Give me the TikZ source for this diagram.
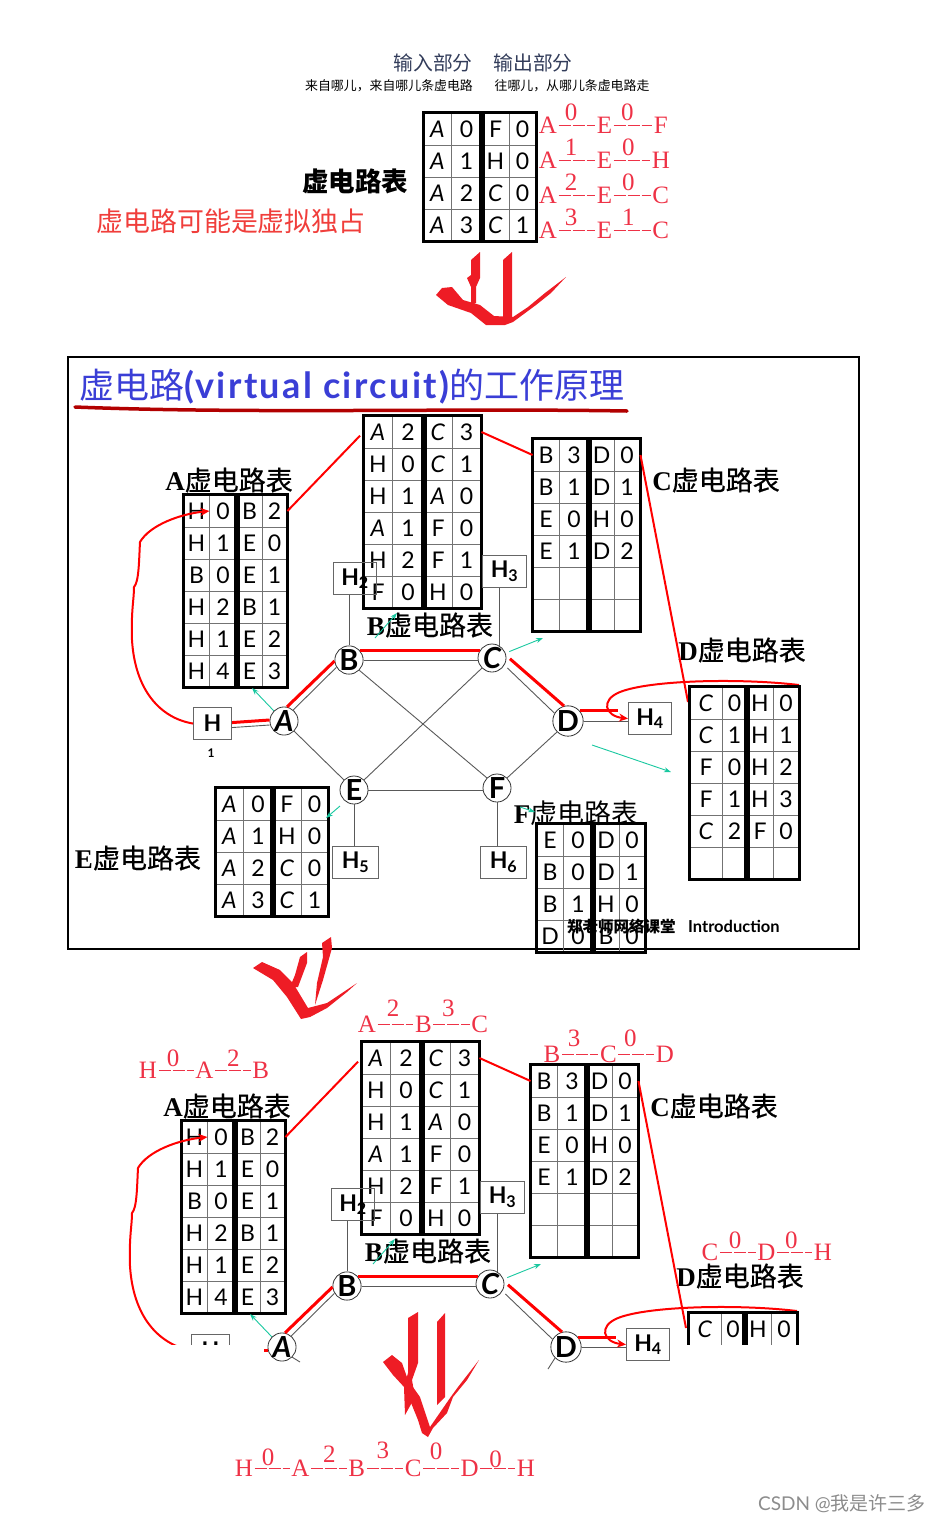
\documentclass[tikz,border=0pt]{standalone}
\usepackage{fontspec}
\usepackage{amsmath}
\setmainfont{Liberation Serif}
\newfontfamily\cjk{Noto Sans CJK SC}
\newfontfamily\cjkb[FakeBold=0.6, BoldFont={Noto Sans CJK SC}, BoldFeatures={FakeBold=0.6}]{Noto Sans CJK SC}
\newfontfamily\comic{Lato}
\newfontfamily\comicwide[LetterSpace=6.5]{Lato}
\definecolor{netred}{RGB}{238, 28, 37}
\definecolor{chainred}{RGB}{238, 50, 70}
\definecolor{titleblue}{RGB}{58, 62, 214}
\definecolor{hintgreen}{RGB}{25, 200, 160}
\definecolor{headgray}{RGB}{50, 60, 90}
\usetikzlibrary{arrows.meta, positioning, calc}

\newcommand{\fs}[1]{\fontsize{#1}{#1}\selectfont}
\newcommand{\ia}{\textit{A}}
\newcommand{\ic}{\textit{C}}

\tikzset{
  vccell/.style={draw=black!55, line width=0.9pt, inner sep=0pt, font=\comic\fs{23}},
  vcframe/.style={draw=black, line width=2.4pt},
  vcbar/.style={draw=black, line width=6pt},
  router/.style={circle, draw=black!80, fill=white, line width=0.8pt, minimum size=28pt, inner sep=0pt, font=\comic\bfseries\fs{29}},
  hostbox/.style={draw=black!60, line width=1.1pt, minimum height=32pt, inner sep=0pt, font=\comic\bfseries\fs{23}},
  thinlink/.style={draw=black!65, line width=0.9pt},
  redlink/.style={draw=red, line width=3pt},
  redwire/.style={draw=red, line width=2pt},
  redtip/.style={draw=red, line width=2pt, -{Stealth[length=9pt, width=8pt]}},
  hint/.style={draw=hintgreen, line width=0.9pt, -{Stealth[length=7pt, width=5pt]}},
  tablabel/.style={inner sep=0pt, font=\bfseries\fs{27}},
  chainletter/.style={inner sep=1.5pt, text=chainred, font=\fs{25}},
  chaindigit/.style={inner sep=0pt, text=chainred, font=\fs{25}},
  chainline/.style={draw=chainred, line width=0.8pt, dash pattern=on 12pt off 2pt},
  stroke/.style={fill=netred, draw=none},
}

% table: name, column edges x0..x4, top y, rows
\newcommand{\vctable}[8]{
  \foreach \ca/\cb/\cc/\cd [count=\rw] in {#8} {
    \node[vccell, minimum width={(#3-#2)*1pt}, minimum height=32pt] (#1-\rw-1) at ({(#2+#3)/2},{#7+32*\rw-16}) {\ca};
    \node[vccell, minimum width={(#4-#3)*1pt}, minimum height=32pt] (#1-\rw-2) at ({(#3+#4)/2},{#7+32*\rw-16}) {\cb};
    \node[vccell, minimum width={(#5-#4)*1pt}, minimum height=32pt] (#1-\rw-3) at ({(#4+#5)/2},{#7+32*\rw-16}) {\cc};
    \node[vccell, minimum width={(#6-#5)*1pt}, minimum height=32pt] (#1-\rw-4) at ({(#5+#6)/2},{#7+32*\rw-16}) {\cd};
    \xdef\vclast{\rw}
  }
  \draw[vcframe] (#1-1-1.north west) rectangle (#1-\vclast-4.south east);
  \draw[vcbar] (#4,#7) -- (#4,{#7+32*\vclast});
}

% chain: name, first x, y, digit/dx/dy/letter
\newcommand{\vcchain}[4]{
  \foreach \dg/\dx/\dy/\ltr [count=\i, remember=\i as \previ (initially 0)] in {#4} {
    \node[chainletter] (#1-\i) at ({#2+56.4*(\i-1)},#3) {\ltr};
    \ifnum\i>1
      \node[chaindigit] (#1-d\i) at ({#2+56.4*(\i-2)+\dx},{#3+\dy}) {\dg};
      \draw[chainline] (#1-\previ) -- (#1-\i);
    \fi
  }
}

% the part of the network that is shown twice
\newcommand{\vcnetwork}{
  \vctable{tabA}{184}{209}{237}{262}{287}{495}{H/0/B/2, H/1/E/0, B/0/E/1, H/2/B/1, H/1/E/2, H/4/E/3}
  \vctable{tabB}{364}{392}{424}{452}{481}{416}{\ia/2/\ic/3, H/0/\ic/1, H/1/\ia/0, \ia/1/F/0, H/2/F/1, F/0/H/0}
  \vctable{tabC}{533}{559}{589}{614}{640}{439}{B/3/D/0, B/1/D/1, E/0/H/0, E/1/D/2, {}/{}/{}/{}, {}/{}/{}/{}}

  \node[tablabel] (labA) at (229,480) {A{\cjkb 虚电路表}};
  \node[tablabel] (labB) at (430,625) {B{\cjkb 虚电路表}};
  \node[tablabel] (labC) at (716,480) {C{\cjkb 虚电路表}};
  \node[tablabel] (labD) at (742,650) {D{\cjkb 虚电路表}};

  \node[router] (A) at (284,721) {\itshape A};
  \node[router] (B) at (349,660) {B};
  \node[router] (C) at (492,658) {\itshape C};
  \node[router] (D) at (568,721) {D};

  \node[hostbox, minimum width=43pt, anchor=north west] (H2) at (333,562) {H\textsubscript{2}\hspace{8pt}};
  \node[hostbox, minimum width=44pt, anchor=north west] (H3) at (482,555) {H\textsubscript{3}};
  \node[hostbox, minimum width=43pt, anchor=north west] (H4) at (628,702) {H\textsubscript{4}};

  \draw[thinlink] (B.north |- H2.south) -- (B.north);
  \draw[thinlink] (C.60 |- H3.south) -- (C.60);
  \draw[thinlink] (A.50) -- (B.-150);
  \draw[thinlink] (B.east) -- (B.east -| C.west);
  \draw[thinlink, shorten <=4pt] (C.-30) -- (D.150);
  \draw[thinlink] (D.east) -- (D.east -| H4.west);

  \draw[redlink] (A.78) -- (B.184);
  \draw[redlink] (B.40) -- (B.40 -| C.145);
  \draw[redlink, shorten <=5pt] (C.10) -- (D.105);
  \coordinate (bendD) at (618,712);
  \draw[redlink] (D.40) -- (D.40 -| bendD);

  \draw[redwire, shorten >=5pt] (tabA-1-4.east) -- (tabB-1-1.west);
  \draw[redwire] (tabB-1-4.east) -- (tabC-1-1.west);
  \coordinate (entryD) at (688,702);
  \draw[redwire] (tabC-1-4.east) -- (entryD);

  % from the D table round to H4
  \coordinate (cornerD) at (799,685);
  \draw[redtip] (cornerD) .. controls (740,678) and (650,680) .. (620,692)
    .. controls (600,700) and (605,716) .. (H4.west);

  \coordinate (hintA) at (252,688);
  \coordinate (hintB) at (397,613);
  \coordinate (hintBs) at (375,638);
  \coordinate (hintC) at (543,638);
  \draw[hint] (A.135) -- (hintA);
  \draw[hint] (hintBs) -- (hintB);
  \draw[hint, shorten <=4pt] (C.20) -- (hintC);
}

\begin{document}
\begin{tikzpicture}[x=1pt, y=-1pt]
  \useasboundingbox (0,0) rectangle (942,1524);

  % top table
  \node[inner sep=0pt, text=headgray, font=\cjk\fs{19.8}] (inhead) at (433,63) {输入部分};
  \node[inner sep=0pt, text=headgray, font=\cjk\fs{19.8}] (outhead) at (533,63) {输出部分};
  \node[inner sep=0pt, font=\cjk\fs{12.9}] (insub) at (389,86) {来自哪儿，来自哪儿条虚电路};
  \node[inner sep=0pt, font=\cjk\fs{12.9}] (outsub) at (572,86) {往哪儿，从哪儿条虚电路走};
  \vctable{tabT}{424}{451}{482}{509}{536}{113}{\ia/0/F/0, \ia/1/H/0, \ia/2/\ic/0, \ia/3/\ic/1}
  \node[inner sep=0pt, font=\cjk\bfseries\fs{26.5}] (vctitle) at (355,181) {虚电路表};
  \node[inner sep=0pt, text=chainred!85!orange, font=\cjk\fs{26.9}] (vcnote) at (231,221) {虚电路可能是虚拟独占};

  \vcchain{rowa}{548}{125}{-/0/0/A, 0/23/-13/E, 0/23/-13/F}
  \vcchain{rowb}{548}{160}{-/0/0/A, 1/23/-13/E, 0/24/-13/H}
  \vcchain{rowc}{548}{195}{-/0/0/A, 2/23/-13/E, 0/24/-13/C}
  \vcchain{rowd}{548}{230}{-/0/0/A, 3/23/-13/E, 1/24/-13/C}

  % first hand arrow
  \fill[stroke] (480,252) -- (480,278) -- (476,287) -- (476,303) -- (471,305) -- (471,287) -- (467,278) -- (471,275) -- (471,260) -- cycle;
  \fill[stroke] (512,252) -- (512,317) -- (503,317) -- (503,260) -- cycle;
  \fill[stroke] (436,295) -- (442,288) -- (452,287) -- (463,300) -- (480,305) -- (494,316) -- (513,317) -- (528,307) -- (545,293) -- (566,277)
    -- (551,293) -- (536,305) -- (513,322) -- (505,325) -- (486,325) -- (471,313) -- (448,305) -- cycle;

  % slide
  \draw[draw=black, line width=2.6pt] (68,357) rectangle (859,949);
  \node[anchor=west, inner sep=0pt, text=titleblue, font=\fs{35}] (slidetitle) at (79,387)
    {{\cjk 虚电路}{\comicwide\bfseries\fs{36}(virtual circuit)}{\cjk 的工作原理}};
  \coordinate (ruleL) at (75,407);
  \coordinate (ruleR) at (627,411);
  \draw[draw=red!70!black, line width=3.5pt, line cap=round] (ruleL) .. controls (250,414) and (450,408) .. (ruleR);

  \vcnetwork
  \vctable{tabD}{690}{722}{747}{773}{799}{687}{\ic/0/H/0, \ic/1/H/1, F/0/H/2, F/1/H/3, \ic/2/F/0, {}/{}/{}/{}}
  \vctable{tabE}{216}{243}{273}{301}{328}{788}{\ia/0/F/0, \ia/1/H/0, \ia/2/\ic/0, \ia/3/\ic/1}
  \vctable{tabF}{537}{563}{593}{619}{645}{824}{E/0/D/0, B/0/D/1, B/1/H/0, D/0/B/0}

  \node[tablabel] (labE) at (138,858) {E{\cjkb 虚电路表}};
  \node[tablabel] (labF) at (576,813) {F{\cjk\mdseries 虚电路表}};

  \node[router] (E) at (354,790) {E};
  \node[router] (F) at (497,788) {F};
  \node[hostbox, minimum width=38pt, anchor=north west] (H1) at (193,707) {H};
  \node[inner sep=0pt, font=\comic\bfseries\fs{12}] (H1n) at (211,753) {1};
  \node[hostbox, minimum width=46pt, anchor=north west] (H5) at (332,846) {H\textsubscript{5}};
  \node[hostbox, minimum width=46pt, anchor=north west] (H6) at (480,846) {H\textsubscript{6}};

  \draw[thinlink] (A.-45) -- (E.135);
  \draw[thinlink] (E.45) -- (C.-135);
  \draw[thinlink] (B.-45) -- (F.135);
  \draw[thinlink] (F.45) -- (D.-135);
  \draw[thinlink] (E.east) -- (E.east -| F.west);
  \draw[thinlink] (E.south) -- (E.south |- H5.north);
  \draw[thinlink] (F.south) -- (F.south |- H6.north);
  \draw[thinlink] ([yshift=-4pt]H1.east) -- ([yshift=-4pt]A.west);
  \draw[redlink] ([yshift=1pt]H1.east) -- ([yshift=1pt]A.west);

  % back from H1 into the A table
  \draw[redtip] (H1.west) .. controls (160,718) and (135,690) .. (132,640)
    .. controls (131,610) and (134,600) .. (134,587) .. controls (139,582) and (139,560) .. (140,542)
    .. controls (150,525) and (180,514) .. (tabA-1-1.east);

  \coordinate (hintD) at (671,772);
  \coordinate (hintDs) at (592,745);
  \coordinate (hintE) at (326,818);
  \coordinate (hintEs) at (340,806);
  \coordinate (hintF) at (535,812);
  \coordinate (hintFs) at (520,807);
  \draw[hint] (hintDs) -- (hintD);
  \draw[hint] (hintEs) -- (hintE);
  \draw[hint] (hintFs) -- (hintF);

  \node[inner sep=0pt, anchor=west, font=\cjk\bfseries\fs{15.5}] (credit) at (567,926) {郑老师网络课堂};
  \node[inner sep=0pt, anchor=west, font=\comic\bfseries\fs{16.5}] (creditb) at (688,926) {Introduction};

  % second hand arrow
  \fill[stroke] (253,968) -- (262,962) -- (280,970) -- (293,983) -- (308,1008) -- (327,1003) -- (357,983) -- (347,992) -- (327,1008) -- (310,1017) -- (301,1019) -- (287,997) -- (273,980) -- cycle;
  \fill[stroke] (307,952) -- (307,963) -- (298,987) -- (290,987) -- (295,975) -- (300,957) -- cycle;
  \fill[stroke] (331,937) -- (332,948) -- (323,980) -- (315,1005) -- (317,983) -- (323,957) -- (322,943) -- cycle;

  % lower copy
  \begin{scope}[shift={(-2,626)}]
    \vcnetwork
    \coordinate (stubA) at (302,736);
    \coordinate (stubD) at (550,743);
    \coordinate (stubH) at (266,724);
    \draw[thinlink] (A.-45) -- (stubA);
    \draw[thinlink] (D.-135) -- (stubD);
    \draw[redlink] (stubH) -- ([xshift=4pt]stubH);
    \begin{scope}
      \clip (100,480) rectangle (262,718);
      \node[hostbox, minimum width=38pt, anchor=north west] (H1) at (193,708) {H};
      \draw[redtip] (H1.west) .. controls (160,718) and (135,690) .. (132,640)
        .. controls (131,610) and (134,600) .. (134,587) .. controls (139,582) and (139,560) .. (140,542)
        .. controls (150,525) and (180,514) .. (tabA-1-1.east);
    \end{scope}
    \begin{scope}
      \clip (680,670) rectangle (810,718);
      \vctable{tabDb}{691}{723}{747}{773}{799}{687}{\ic/0/H/0, \ic/1/H/1}
    \end{scope}
  \end{scope}

  \vcchain{rowe}{148}{1070}{-/0/0/H, 0/25/-12/A, 2/29/-12/B}
  \vcchain{rowf}{367}{1024}{-/0/0/A, 2/26/-16/B, 3/25/-16/C}
  \vcchain{rowg}{552}{1054}{-/0/0/B, 3/22/-16/C, 0/22/-16/D}
  \vcchain{rowh}{710}{1252}{-/0/0/C, 0/25/-12/D, 0/25/-12/H}

  % third hand arrow
  \fill[stroke] (418,1312) -- (418,1363) -- (412,1380) -- (415,1397) -- (405,1415) -- (404,1387) -- (408,1373) -- (408,1318) -- cycle;
  \fill[stroke] (445,1313) -- (445,1397) -- (437,1405) -- (437,1322) -- cycle;
  \fill[stroke] (383,1362) -- (392,1355) -- (402,1363) -- (408,1380) -- (420,1397) -- (430,1427) -- (450,1398) -- (458,1387) -- (479,1360) -- (467,1380) -- (453,1397) -- (447,1413) -- (433,1428) -- (428,1437) -- (422,1433) -- (418,1420) -- (405,1388) -- (393,1375) -- cycle;

  \vcchain{rowi}{244}{1468}{-/0/0/H, 0/24/-11/A, 2/29/-14/B, 3/26/-18/C, 0/23/-17/D, 0/26/-9/H}

  \node[inner sep=0pt, text=black!45, font=\comic\fs{19}] (mark) at (842,1504) {CSDN @{\cjk 我是许三多}};
\end{tikzpicture}
\end{document}
